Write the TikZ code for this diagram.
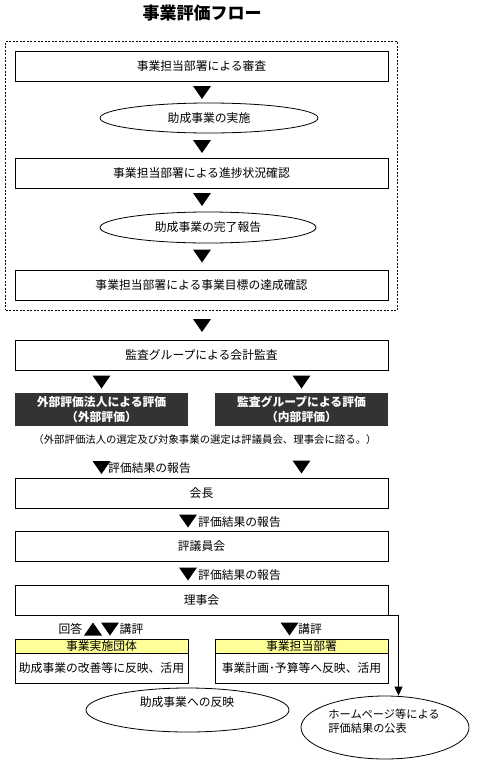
\documentclass[tikz,border=0pt]{standalone}
\usepackage{fontspec}
\usepackage{tikz}
\usetikzlibrary{shapes.geometric, arrows.meta, positioning, fit, calc}
\newfontfamily\jp{Noto Sans CJK JP}
\definecolor{darkcolor}{RGB}{51,51,51}
\definecolor{headcolor}{RGB}{255,255,153}

\begin{document}
\begin{tikzpicture}[
    x=1pt, y=-1pt,
    box/.style={draw, line width=1pt, minimum width=373pt, minimum height=30pt, inner sep=0pt, font=\jp\fontsize{11.8}{14}\selectfont, align=center},
    oval/.style={draw, ellipse, line width=0.8pt, inner sep=0pt, font=\jp\fontsize{11.8}{14}\selectfont},
    darkbox/.style={fill=darkcolor, minimum width=173pt, minimum height=33pt, inner sep=0pt, text=white, font=\jp\bfseries\fontsize{11.8}{15}\selectfont, align=center},
    headbox/.style={draw, line width=1pt, fill=headcolor, minimum width=173pt, minimum height=14pt, inner sep=0pt, font=\jp\fontsize{11.8}{14}\selectfont},
    bodybox/.style={draw, line width=1pt, minimum width=173pt, minimum height=30pt, inner sep=0pt, font=\jp\fontsize{11.8}{14}\selectfont},
    lbl/.style={inner sep=0pt, font=\jp\fontsize{11.8}{14}\selectfont},
    tridown/.pic={\fill (-9,-6.5) -- (9,-6.5) -- (0,6.5) -- cycle;},
    triup/.pic={\fill (-9,6.5) -- (9,6.5) -- (0,-6.5) -- cycle;}
]
    \useasboundingbox (0,0) rectangle (484,780);
    \node[lbl, font=\jp\bfseries\fontsize{17}{20}\selectfont] (title) at (202,13) {事業評価フロー};

    % Department checks
    \node[box] (review) at (201.5,66) {事業担当部署による審査};
    \node[oval, minimum width=218pt, minimum height=30pt] (exec) at (209,118) {助成事業の実施};
    \node[box] (progress) at (201.5,173) {事業担当部署による進捗状況確認};
    \node[oval, minimum width=216pt, minimum height=31pt] (report) at (208,227.5) {助成事業の完了報告};
    \node[box] (goal) at (201.5,285.5) {事業担当部署による事業目標の達成確認};
    \node[draw, dash pattern=on 2pt off 1.5pt, line width=0.8pt, inner sep=9pt, fit=(review) (goal)] (dept) {};

    % Audit and evaluation
    \node[box] (audit) at (201.5,355) {監査グループによる会計監査};
    \node[darkbox] (extern) at (101.5,409.5) {外部評価法人による評価\\（外部評価）};
    \node[darkbox] (intern) at (301.5,409.5) {監査グループによる評価\\（内部評価）};
    \node[lbl, font=\jp\fontsize{10.4}{12}\selectfont] (note) at (205,440) {（外部評価法人の選定及び対象事業の選定は評議員会、理事会に諮る。）};

    % Reporting chain
    \node[box] (chair) at (201.5,493) {会長};
    \node[box] (council) at (201.5,546.5) {評議員会};
    \node[box] (board) at (201.5,600) {理事会};

    % Feedback
    \node[headbox] (orghead) at (101.5,646) {事業実施団体};
    \node[bodybox, below=-1pt of orghead] (orgbody) {助成事業の改善等に反映、活用};
    \node[headbox] (depthead) at (301.5,646) {事業担当部署};
    \node[bodybox, below=-1pt of depthead] (deptbody) {事業計画･予算等へ反映、活用};
    \node[oval, minimum width=203pt, minimum height=44pt] (reflect) at (187.5,710) {};
    \node[lbl] (reflecttext) at (187,702) {助成事業への反映};
    \node[oval, minimum width=168pt, minimum height=63pt] (publish) at (385,727.5) {};
    \node[lbl, align=left, font=\jp\fontsize{11.2}{14}\selectfont] (publishtext) at (384,721) {ホームページ等による\\評価結果の公表};

    % Triangles
    \pic at (202,92.5) {tridown};
    \pic at (202,146.5) {tridown};
    \pic at (202,199.5) {tridown};
    \pic at (202,256) {tridown};
    \pic at (202,325.5) {tridown};
    \pic at (101.5,382) {tridown};
    \pic at (301.5,382) {tridown};
    \pic at (101.5,467.5) {tridown};
    \pic at (301.5,467) {tridown};
    \pic at (188,521) {tridown};
    \pic at (188,574) {tridown};
    \pic at (93,629) {triup};
    \pic at (110,629) {tridown};
    \pic at (289.5,629) {tridown};

    % Labels
    \node[lbl] (res1) at (149.5,468.5) {評価結果の報告};
    \node[lbl] (res2) at (239.5,522) {評価結果の報告};
    \node[lbl] (res3) at (239.5,575.5) {評価結果の報告};
    \node[lbl] (answer) at (70.5,629) {回答};
    \node[lbl] (remark1) at (131.5,629) {講評};
    \node[lbl] (remark2) at (310,629) {講評};

    % Publication arrow
    \draw[line width=0.8pt, -{Triangle[width=8pt,length=9pt]}] (board.south east) -- ++(10,0) coordinate (turn) -- (turn |- publish.north);
\end{tikzpicture}
\end{document}
